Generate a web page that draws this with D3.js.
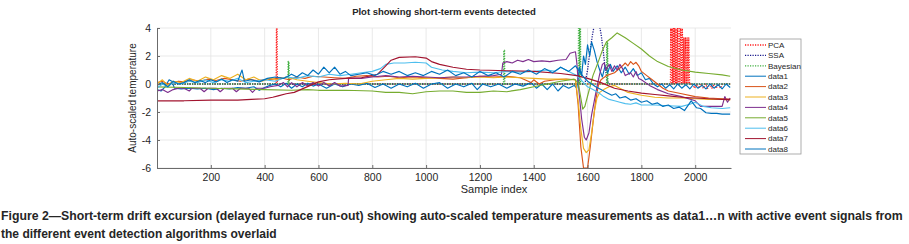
<!DOCTYPE html>
<html>
<head>
<meta charset="utf-8">
<script src="https://cdnjs.cloudflare.com/ajax/libs/d3/7.8.5/d3.min.js"></script>
<style>
body { margin: 0; background: #fff; }
text { font-family: Arial, "Liberation Sans", sans-serif; fill: #262626; }
</style>
</head>
<body>
<div id="chart"></div>
<script>
/**
 * Chart values. Each series is a list of
 * [sample index, auto-scaled value] pairs.
 */
var xTicks = [200, 400, 600, 800, 1000, 1200, 1400, 1600, 1800, 2000];
var yTicks = [-6, -4, -2, 0, 2, 4];

var pcaSignal = [[0,0],[443,0],[444,4.4],[446,4.4],[447,0],[1908,0],[1909,4.4],[1912,0],[1914,4.4],
	[1917,0],[1919,4.4],[1922,0],[1924,4.4],[1927,0],[1929,4.4],[1932,0],[1934,4.4],[1937,0],[1940,4.4],
	[1943,0],[1946,4.4],[1949,0],[1952,4.4],[1955,0],[1958,3.3],[1961,0],[1964,3.3],[1967,0],[1970,3.3],
	[1973,0],[1976,3.3],[1979,0],[1990,0],[1998,-0.3],[2006,0],[2014,-0.3],[2022,0],[2030,-0.3],[2038,0],
	[2046,-0.3],[2054,0],[2062,-0.3],[2070,0],[2078,-0.3],[2086,0],[2094,-0.3],[2102,0],[2130,0]];
var ssaSignal = [[0,0],[1590,0],[1600,1.0],[1608,2.2],[1618,3.5],[1626,4.3],[1640,4.6],[1650,3.6],
	[1658,2.4],[1665,1.2],[1672,0.3],[1678,0],[2130,0]];
var bayesSignal = [[0,0],[487,0],[488,1.6],[490,1.6],[491,0],[1288,0],[1289,2.4],[1291,2.4],[1292,0],
	[1566,0],[1567,4.5],[1569,4.5],[1570,0],[1571,4.5],[1573,4.5],[1574,0],[1671,0],[1672,3.0],[1674,3.0],
	[1675,0],[2130,0]];

var data1 = [[0,-0.4],[15,-0.5],[30,-0.2],[45,0.3],[55,0.2],[65,-0.3],[90,-0.35],[120,-0.3],[150,-0.35],
	[180,-0.3],[210,-0.4],[240,-0.3],[270,-0.35],[300,-0.25],[330,-0.3],[360,-0.2],[380,-0.45],[400,-0.25],
	[420,-0.1],[440,0.0],[460,-0.2],[480,0.05],[500,-0.3],[520,0.0],[540,-0.2],[560,0.05],[580,-0.15],
	[600,0.0],[630,-0.3],[660,0.0],[690,-0.2],[720,0.0],[750,-0.1],[780,0.05],[810,-0.25],[840,0.0],
	[870,-0.3],[900,0.0],[930,-0.2],[960,0.05],[990,-0.3],[1020,0.0],[1050,0.1],[1080,-0.3],[1110,0.0],
	[1140,-0.2],[1170,0.05],[1190,-0.4],[1210,0.0],[1240,-0.2],[1270,0.0],[1300,-0.3],[1330,0.0],
	[1360,-0.15],[1390,0.1],[1410,-0.3],[1430,0.0],[1450,-0.4],[1470,0.0],[1490,-0.5],[1510,-0.1],
	[1530,-0.3],[1550,-0.1],[1560,-0.3],[1570,1.2],[1578,0.6],[1585,2.0],[1592,1.4],[1600,2.8],[1608,2.0],
	[1615,3.0],[1625,2.4],[1635,1.6],[1645,1.0],[1655,0.5],[1665,1.3],[1675,0.8],[1685,1.4],[1695,0.9],
	[1710,1.3],[1725,0.8],[1740,1.2],[1755,0.7],[1770,1.1],[1785,0.6],[1800,0.8],[1815,0.3],[1830,0.4],
	[1845,0.0],[1860,-0.2],[1875,0.0],[1890,-0.3],[1905,-0.05],[1920,-0.35],[1935,0.0],[1950,-0.3],
	[1965,-0.05],[1980,-0.35],[1995,0.0],[2010,-0.3],[2025,-0.1],[2040,-0.35],[2055,0.0],[2070,-0.3],
	[2085,-0.05],[2100,-0.35],[2115,0.0],[2130,-0.25]];
var data2 = [[0,0.1],[20,0.2],[40,0.0],[60,0.1],[80,0.2],[100,0.15],[130,0.3],[160,0.2],[190,0.35],
	[220,0.25],[250,0.4],[280,0.3],[310,0.2],[340,0.35],[370,0.25],[400,0.3],[430,0.35],[460,0.45],
	[490,0.3],[520,0.5],[550,0.4],[580,0.55],[620,0.5],[660,0.45],[700,0.4],[740,0.55],[780,0.6],
	[820,0.5],[860,0.55],[900,0.45],[950,0.5],[1000,0.45],[1050,0.4],[1100,0.35],[1150,0.45],[1200,0.55],
	[1250,0.5],[1300,0.55],[1350,0.45],[1390,0.1],[1400,0.3],[1420,0.0],[1440,0.2],[1480,0.3],[1520,0.35],
	[1555,0.3],[1565,-1.5],[1575,-4.5],[1585,-6.0],[1600,-6.0],[1610,-4.5],[1620,-2.8],[1630,-1.2],
	[1640,-0.1],[1650,0.3],[1670,0.6],[1700,0.8],[1730,1.3],[1740,1.5],[1750,1.3],[1760,1.6],[1770,1.4],
	[1780,1.55],[1790,1.3],[1800,0.9],[1820,0.6],[1840,0.3],[1860,0.0],[1880,-0.3],[1900,-0.5],
	[1950,-0.7],[2000,-0.9],[2050,-1.0],[2100,-1.05],[2130,-1.1]];
var data3 = [[0,0.0],[20,0.3],[40,-0.1],[60,0.2],[90,0.1],[120,0.4],[150,0.2],[180,0.5],[210,0.3],
	[240,0.6],[270,0.4],[300,0.7],[330,0.3],[360,0.5],[390,0.2],[420,0.4],[450,0.3],[480,0.5],[520,0.3],
	[560,0.2],[600,0.1],[650,0.0],[700,0.05],[750,0.0],[800,0.2],[850,0.3],[900,0.4],[950,0.35],
	[1000,0.4],[1050,0.45],[1100,0.5],[1150,0.45],[1200,0.5],[1250,0.45],[1300,0.5],[1350,0.45],
	[1400,0.4],[1450,0.35],[1500,0.35],[1555,0.3],[1565,-1.2],[1575,-3.2],[1585,-4.6],[1595,-4.9],
	[1605,-4.7],[1615,-3.5],[1625,-2.0],[1635,-1.0],[1645,-0.6],[1660,-0.4],[1680,-0.2],[1700,-0.1],
	[1720,-0.3],[1750,-0.6],[1800,-0.8],[1850,-0.95],[1900,-1.0],[1950,-1.0],[2000,-1.05],[2050,-1.1],
	[2100,-1.1],[2130,-1.15]];
var data4 = [[0,-0.5],[20,-0.4],[40,-0.6],[60,-0.4],[80,-0.3],[100,-0.3],[120,-0.5],[130,-0.3],
	[160,-0.3],[175,-0.55],[190,-0.3],[220,-0.3],[235,-0.55],[250,-0.3],[280,-0.3],[295,-0.55],[310,-0.3],
	[340,-0.3],[355,-0.6],[370,-0.3],[400,-0.3],[420,-0.2],[450,-0.1],[470,0.1],[485,-0.2],[500,0.1],
	[520,-0.2],[540,0.1],[560,-0.15],[580,0.1],[600,-0.15],[620,0.1],[640,-0.15],[660,0.1],[680,-0.15],
	[710,-0.1],[712,0.4],[760,0.4],[800,0.5],[850,0.6],[900,0.5],[950,0.55],[1000,0.5],[1050,0.45],
	[1100,0.5],[1150,0.5],[1200,0.55],[1250,0.6],[1280,0.7],[1285,1.5],[1300,1.6],[1320,1.5],[1340,1.7],
	[1360,1.6],[1380,1.75],[1400,1.6],[1430,1.65],[1460,1.6],[1490,1.7],[1520,1.75],[1535,2.2],
	[1555,2.3],[1560,1.5],[1568,-0.5],[1578,-2.5],[1588,-3.8],[1595,-4.0],[1605,-3.5],[1615,-2.2],
	[1625,-1.2],[1635,-0.2],[1645,0.7],[1655,1.4],[1662,1.5],[1668,1.0],[1680,1.4],[1690,0.9],[1700,1.3],
	[1710,1.0],[1720,1.4],[1730,1.1],[1740,0.6],[1760,0.8],[1770,0.5],[1780,0.9],[1790,0.4],[1800,0.3],
	[1830,-0.1],[1860,-0.4],[1900,-0.7],[1950,-0.9],[2000,-1.2],[2020,-1.6],[2100,-1.6],[2110,-0.9],
	[2120,-1.3],[2130,-1.0]];
var data5 = [[0,-0.2],[100,-0.25],[200,-0.3],[300,-0.35],[400,-0.4],[500,-0.45],[560,-0.4],[600,-0.45],
	[700,-0.45],[800,-0.5],[850,-0.6],[900,-0.6],[950,-0.7],[1000,-0.55],[1050,-0.5],[1100,-0.5],
	[1150,-0.6],[1200,-0.6],[1250,-0.5],[1300,-0.55],[1350,-0.4],[1400,-0.2],[1450,0.0],[1500,0.2],
	[1550,0.35],[1565,0.1],[1575,-1.0],[1582,-1.8],[1590,-1.6],[1605,-0.5],[1620,0.6],[1640,1.6],
	[1655,2.4],[1670,3.0],[1690,3.3],[1710,3.65],[1740,3.3],[1770,2.9],[1800,2.5],[1830,2.0],[1860,1.6],
	[1900,1.25],[1950,1.0],[2000,0.85],[2050,0.75],[2100,0.65],[2130,0.55]];
var data6 = [[0,-0.3],[20,0.0],[40,-0.2],[60,0.1],[90,0.0],[120,0.2],[150,0.1],[180,0.3],[210,0.1],
	[240,0.3],[270,0.2],[300,0.4],[330,0.1],[360,0.2],[400,0.3],[440,0.2],[480,0.5],[520,0.4],[560,0.6],
	[600,0.5],[640,0.7],[680,0.6],[720,0.7],[760,0.8],[800,0.9],[830,1.1],[850,1.4],[880,1.5],[920,1.5],
	[960,1.55],[1000,1.5],[1020,1.2],[1060,1.0],[1100,0.9],[1150,0.8],[1200,0.85],[1250,0.8],[1300,0.9],
	[1350,0.85],[1400,0.9],[1450,1.0],[1480,0.9],[1500,1.2],[1530,0.9],[1560,0.6],[1580,0.2],[1600,-0.2],
	[1620,-0.4],[1640,-0.6],[1660,-0.9],[1680,-1.1],[1700,-1.2],[1720,-1.3],[1740,-1.4],[1760,-1.45],
	[1780,-1.35],[1800,-1.5],[1850,-1.5],[1900,-1.55],[1950,-1.6],[1980,-1.45],[2000,-1.3],[2030,-1.6],
	[2060,-1.7],[2100,-1.75],[2130,-1.7]];
var data7 = [[0,-1.2],[100,-1.2],[200,-1.15],[300,-1.15],[350,-1.1],[400,-1.05],[430,-0.95],[450,-0.85],
	[480,-0.7],[510,-0.6],[540,-0.35],[570,-0.1],[600,0.15],[640,0.3],[700,0.4],[760,0.45],[820,0.7],
	[850,1.3],[870,1.7],[900,1.9],[960,1.95],[1000,1.85],[1020,1.6],[1050,1.4],[1100,1.2],[1150,1.05],
	[1200,1.0],[1300,0.95],[1400,0.9],[1500,0.75],[1560,0.6],[1600,0.4],[1650,0.1],[1700,-0.3],
	[1750,-0.5],[1800,-0.65],[1850,-0.75],[1900,-0.85],[1950,-0.95],[2000,-1.0],[2050,-1.05],[2100,-1.1],
	[2130,-1.1]];
var data8 = [[0,-0.1],[20,0.1],[40,-0.2],[60,0.2],[80,0.0],[100,0.1],[120,0.3],[140,0.1],[160,0.25],
	[180,0.1],[200,0.3],[220,0.15],[240,0.35],[260,0.1],[280,0.3],[300,0.2],[316,1.0],[325,0.2],[350,0.3],
	[380,0.15],[410,0.4],[440,0.5],[470,0.4],[500,0.7],[520,0.5],[540,0.8],[560,0.6],[580,1.0],[600,0.7],
	[620,1.2],[640,0.8],[660,1.2],[680,0.7],[700,0.9],[720,0.6],[750,0.7],[780,0.8],[810,0.6],[840,0.9],
	[870,0.7],[900,0.9],[930,0.6],[960,0.8],[990,0.6],[1020,0.9],[1050,0.7],[1080,1.0],[1110,0.6],
	[1140,0.8],[1170,0.5],[1200,0.9],[1230,0.6],[1260,0.8],[1290,0.5],[1320,0.9],[1350,0.7],[1380,1.0],
	[1410,0.7],[1440,1.1],[1470,0.8],[1500,1.2],[1530,0.9],[1555,1.3],[1570,0.9],[1585,0.5],[1600,0.2],
	[1615,0.0],[1630,-0.2],[1650,-0.4],[1670,-0.6],[1690,-0.8],[1705,-0.7],[1720,-1.0],[1740,-0.9],
	[1760,-1.15],[1780,-1.05],[1800,-1.3],[1820,-1.2],[1840,-1.45],[1860,-1.35],[1880,-1.6],[1900,-1.5],
	[1920,-1.75],[1940,-1.65],[1960,-1.9],[1985,-1.2],[2005,-1.7],[2020,-1.75],[2040,-2.05],[2060,-2.1],
	[2080,-2.1],[2100,-2.15],[2130,-2.15]];

var seriesNames = ["PCA", "SSA", "Bayesian", "data1", "data2", "data3", "data4", "data5", "data6", "data7", "data8"];
var seriesData = [pcaSignal, ssaSignal, bayesSignal, data1, data2, data3, data4, data5, data6, data7, data8];

// matlab default colours + the three event signals (dotted)
var seriesColors = ["#ff1a1a", "#1a1a8c", "#3fae3f", "#0072BD", "#D95319", "#EDB120", "#7E2F8E",
	"#77AC30", "#4DBEEE", "#A2142F", "#0072BD"];
var seriesDotted = [true, true, true, false, false, false, false, false, false, false, false];

var captionLines = [
	"Figure 2\u2014Short-term drift excursion (delayed furnace run-out) showing auto-scaled temperature measurements as data1\u2026n with active event signals from",
	"the different event detection algorithms overlaid"
];

/**
 * Global variables
 */
var margin = {top: 28, right: 178, bottom: 76, left: 157};
var _width = 909 - margin.left - margin.right;
var _height = 244 - margin.top - margin.bottom;
var _xRange = d3.scaleLinear().domain([0, 2133]).range([0, _width]);
var _yRange = d3.scaleLinear().domain([-6, 4]).range([_height, 0]);

var svg = d3.select("#chart").append("svg")
	.attr("width", 909)
	.attr("height", 244);

var plot = svg.append("g")
	.attr("transform", "translate(" + margin.left + "," + margin.top + ")");

plot.append("clipPath").attr("id", "clip")
	.append("rect").attr("width", _width).attr("height", _height);

// gridlines
plot.append("g").selectAll("line").data(xTicks).join("line")
	.attr("x1", d => _xRange(d)).attr("x2", d => _xRange(d))
	.attr("y1", 0).attr("y2", _height)
	.attr("stroke", "#e3e3e3").attr("stroke-width", 0.8);
plot.append("g").selectAll("line").data(yTicks).join("line")
	.attr("x1", 0).attr("x2", _width)
	.attr("y1", d => _yRange(d)).attr("y2", d => _yRange(d))
	.attr("stroke", "#e3e3e3").attr("stroke-width", 0.8);

/**
 * Returns a straight d3 line for a [x, y] pair list.
 */
function getLine() {
	return d3.line()
		.x(function(d) { return _xRange(d[0]); })
		.y(function(d) { return _yRange(d[1]); });
}

var lines = plot.append("g").attr("clip-path", "url(#clip)");
seriesData.forEach(function(s, i) {
	lines.append("path")
		.datum(s)
		.attr("d", getLine())
		.attr("fill", "none")
		.attr("stroke", seriesColors[i])
		.attr("stroke-width", seriesDotted[i] ? (i == 2 ? 1.6 : 1.3) : 1.15)
		.attr("stroke-dasharray", seriesDotted[i] ? "1.2,1.3" : null)
		.attr("stroke-linejoin", "round");
});

// axes, ticks pointing inward like matlab
var xAxis = d3.axisBottom(_xRange).tickValues(xTicks).tickSizeInner(-3).tickSizeOuter(0).tickPadding(6)
	.tickFormat(d => String(d));
var yAxis = d3.axisLeft(_yRange).tickValues(yTicks).tickSizeInner(-3).tickSizeOuter(0).tickPadding(6)
	.tickFormat(d => String(d));

var gx = plot.append("g").attr("transform", "translate(0," + _height + ")").call(xAxis);
var gy = plot.append("g").call(yAxis);
[gx, gy].forEach(function(g) {
	g.select(".domain").attr("stroke", "#6b6b6b");
	g.selectAll(".tick line").attr("stroke", "#6b6b6b");
	g.selectAll(".tick text").attr("font-size", 10.5).attr("fill", "#262626")
		.attr("font-family", "Arial, 'Liberation Sans', sans-serif");
});

// title and axis labels
svg.append("text").attr("x", 444).attr("y", 15).attr("text-anchor", "middle")
	.attr("font-size", 9.5).attr("font-weight", "bold")
	.text("Plot showing short-term events detected");
svg.append("text").attr("x", 494).attr("y", 193).attr("text-anchor", "middle")
	.attr("font-size", 11).text("Sample index");
svg.append("text").attr("transform", "translate(136,98) rotate(-90)").attr("text-anchor", "middle")
	.attr("font-size", 10).text("Auto-scaled temperature");

// legend
var legend = svg.append("g").attr("transform", "translate(740,39)");
legend.append("rect").attr("width", 61).attr("height", 115)
	.attr("fill", "#fff").attr("stroke", "#9a9a9a").attr("stroke-width", 0.8);
seriesNames.forEach(function(name, i) {
	var ly = 6 + i * 10.4;
	legend.append("line").attr("x1", 5).attr("x2", 26).attr("y1", ly).attr("y2", ly)
		.attr("stroke", seriesColors[i])
		.attr("stroke-width", seriesDotted[i] ? 1.3 : 1)
		.attr("stroke-dasharray", seriesDotted[i] ? "1.2,1.3" : null);
	legend.append("text").attr("x", 28).attr("y", ly + 2.8).attr("font-size", 8).attr("fill", "#333")
		.text(name);
});

// figure caption, squeezed horizontally to the condensed face of the original
var capWidths = [903, 276];
var capY = [220, 238];
captionLines.forEach(function(t, i) {
	var txt = svg.append("text").attr("font-size", 12.5).attr("font-weight", "bold")
		.attr("fill", "#1a1a1a").text(t);
	var len = txt.node().getComputedTextLength();
	txt.attr("transform", "translate(1," + capY[i] + ") scale(" + (capWidths[i] / len) + ",1)");
});
</script>
</body>
</html>
